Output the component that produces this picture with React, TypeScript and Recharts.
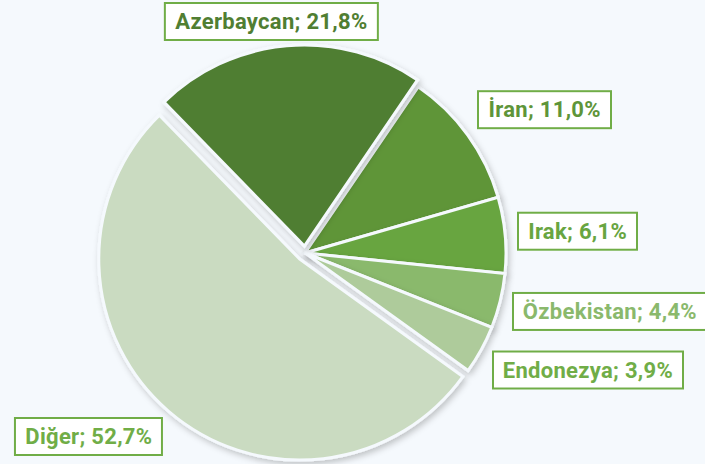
import React from 'react';
import { PieChart, Pie, Cell, Sector } from 'recharts';

// export share by country (%)
const countries = ['Azerbaycan', 'İran', 'Irak', 'Özbekistan', 'Endonezya', 'Diğer'];
const shares = [21.8, 11.0, 6.1, 4.4, 3.9, 52.7];

const SLICE_COLORS = ['#507E32', '#5E9539', '#68A541', '#8AB96C', '#AECB9B', '#CADBC1'];
const TEXT_COLORS = ['#507E32', '#5E9539', '#68A541', '#8AB96C', '#70AD47', '#70AD47'];
const EXPLODE = [7, 0, 0, 0, 0, 8];
const BG = '#F5F9FD';

const data = countries.map((name, i) => ({ name, value: shares[i] }));

const RAD = Math.PI / 180;
const fmt = (v: number) => v.toFixed(1).replace('.', ',') + '%';
const clamp = (v: number) => Math.max(-1, Math.min(1, v));

const renderLabel = (props: any) => {
  const { cx, cy, midAngle, outerRadius, startAngle, endAngle, index } = props;
  const dx = Math.cos(-midAngle * RAD);
  const dy = Math.sin(-midAngle * RAD);
  const off = EXPLODE[index];
  const r = outerRadius + 12 + (dy > 0 ? off / 2 : 0);
  const px = cx + r * dx;
  const py = cy + r * dy;
  const tx = (clamp(dx * 1.6) - 1) * 50;
  const ty = (clamp(dy * 1.6) - 1) * 50;
  return (
    <g>
      {off > 0 && (
        <Sector
          cx={cx + off * dx}
          cy={cy + off * dy}
          innerRadius={0}
          outerRadius={outerRadius}
          startAngle={startAngle}
          endAngle={endAngle}
          fill={SLICE_COLORS[index]}
          stroke={BG}
          strokeWidth={3}
          filter="url(#pieShadow)"
        />
      )}
      <foreignObject x={px - 300} y={py - 100} width={600} height={200}>
        <div style={{ position: 'relative', width: 600, height: 200 }}>
          <div
            style={{
              position: 'absolute',
              left: 300,
              top: 100,
              transform: `translate(${tx}%, ${ty}%)`,
              background: '#fff',
              border: '2px solid #70AD47',
              padding: '4px 9px',
              whiteSpace: 'nowrap',
              fontFamily: 'Roboto, sans-serif',
              fontWeight: 700,
              fontSize: 22,
              letterSpacing: 0.3,
              lineHeight: '27px',
              color: TEXT_COLORS[index],
            }}
          >
            {countries[index]}; {fmt(shares[index])}
          </div>
        </div>
      </foreignObject>
    </g>
  );
};

export default function App() {
  return (
    <div style={{ position: 'absolute', left: 0, top: 0, width: 705, height: 464, background: BG }}>
      <PieChart width={705} height={464} margin={{ top: 0, right: 0, bottom: 0, left: 0 }}>
        <defs>
          <filter id="pieShadow" x="-20%" y="-20%" width="140%" height="140%">
            <feDropShadow dx="2" dy="3" stdDeviation="3" floodColor="#000" floodOpacity="0.22" />
          </filter>
        </defs>
        <Pie
          data={data}
          dataKey="value"
          nameKey="name"
          cx={305}
          cy={253}
          innerRadius={0}
          outerRadius={201}
          startAngle={134.3}
          endAngle={-225.7}
          stroke={BG}
          strokeWidth={3}
          label={renderLabel}
          labelLine={false}
          isAnimationActive={false}
        >
          {data.map((d, i) => (
            <Cell
              key={d.name}
              fill={EXPLODE[i] > 0 ? 'transparent' : SLICE_COLORS[i]}
              stroke={EXPLODE[i] > 0 ? 'none' : BG}
              filter={EXPLODE[i] > 0 ? undefined : 'url(#pieShadow)'}
            />
          ))}
        </Pie>
      </PieChart>
    </div>
  );
}
